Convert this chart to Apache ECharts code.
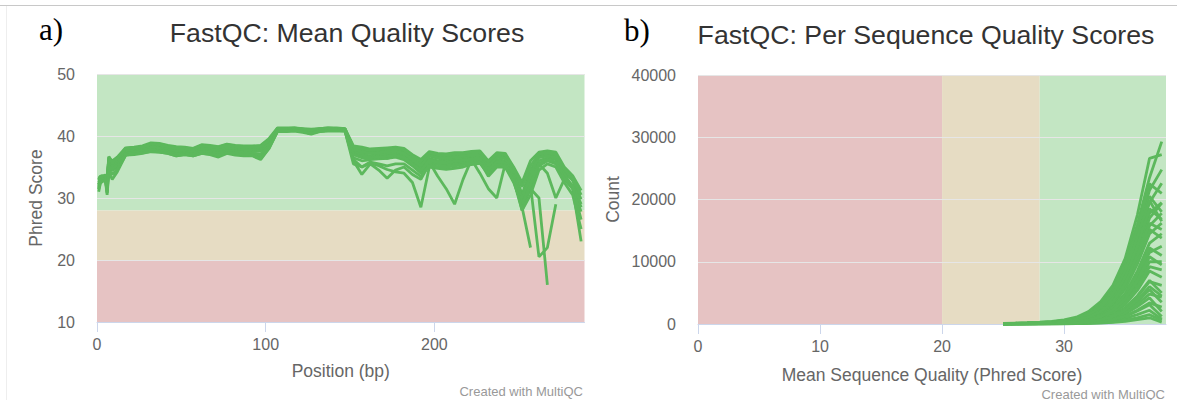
<!DOCTYPE html>
<html>
<head>
<meta charset="utf-8">
<script src="https://cdn.jsdelivr.net/npm/echarts@6/dist/echarts.min.js"></script>
<style>
html,body{margin:0;padding:0;background:#fff;}
#chart{width:1177px;height:400px;}
</style>
</head>
<body>
<div id="chart"></div>
<script>
// ---------------- DATA ----------------
// a) Mean quality scores: position (bp) of each bin
const positions = [1,2,3,4,5,6,7,8,9,12,17,22,27,32,37,42,47,52,57,62,67,72,77,82,87,92,97,102,107,112,117,122,127,132,137,142,147,152,157,162,167,172,177,182,187,192,197,202,207,212,217,222,227,232,237,242,247,252,257,262,267,272,277,282,287];
const meanQ1 = [33.2,33.5,33.6,33.6,33.7,33.4,36.6,36.2,36.0, 36.6,38.1,38.2,38.4,38.9,38.8,38.5,38.3,38.2,38.0,38.6,38.5,38.3,38.7,38.5,38.4,38.4,38.5, 39.6,41.3,41.3,41.3,41.2,41.1,41.2,41.3,41.3,41.2, 38.4,38.2,37.9,38.0,38.1,38.2,38.0,37.0,36.2,37.5,37.2,37.1,37.3,37.3,37.5,37.6,36.0,37.3,37.2,35.0,32.5,36.0,37.4,37.6,37.4,35.0,33.6,31.2];
const meanQ2 = [32.8,33.2,33.3,33.4,33.5,32.8,36.0,35.8,35.6, 36.1,37.8,38.0,38.1,38.5,38.4,38.2,37.9,37.9,37.7,38.3,38.1,38.0,38.4,38.2,38.1,38.0,38.2, 39.0,41.1,41.1,41.2,41.0,40.9,41.1,41.2,41.2,41.1, 38.0,37.8,37.5,37.6,37.8,37.9,37.5,36.5,35.6,37.1,36.8,36.7,36.9,37.0,37.2,37.2,35.5,36.9,36.7,34.4,30.6,34.5,36.8,37.1,36.8,34.2,32.8,29.8];
const meanQ3 = [32.5,33.0,33.1,33.2,33.2,32.0,35.5,35.2,35.0, 35.5,37.3,37.6,37.8,38.0,37.8,37.7,37.2,37.4,37.2,37.8,37.6,37.5,37.8,37.7,37.6,37.5,37.6, 38.5,40.9,40.9,41.0,40.8,40.6,40.9,41.0,41.0,41.0, 37.4,37.0,36.8,36.9,37.0,37.2,36.8,35.8,34.8,36.4,36.0,36.0,36.2,36.4,36.6,36.6,34.8,36.2,36.0,33.6,29.5,33.0,36.0,36.5,36.2,33.5,32.0,28.5];
const meanQ4 = [31.8,32.6,32.8,32.9,33.0,31.2,34.8,34.6,34.4, 35.0,37.0,37.2,37.4,37.6,37.5,37.3,36.9,37.1,36.9,37.3,37.2,37.0,37.4,37.3,37.0,36.9,36.6, 38.2,40.8,40.8,40.9,40.7,40.4,40.8,40.9,40.9,40.9, 36.5,36.0,36.2,36.3,36.4,36.6,36.2,35.2,34.0,35.8,35.4,35.5,35.7,35.8,36.0,36.1,34.2,35.6,35.4,33.0,28.5,31.5,35.2,36.0,35.5,33.0,31.5,27.8];
const meanQ5 = [31.0,32.4,32.6,32.8,32.8,30.5,34.2,33.6,33.0, 34.2,36.9,37.0,37.2,37.5,37.4,37.2,36.8,37.0,36.8,37.2,37.0,36.6,37.2,36.9,36.8,36.8,36.2, 38.0,40.7,40.7,40.8,40.6,40.3,40.7,40.8,40.8,40.8, 36.2,35.0,35.6,35.2,34.6,34.2,34.0,32.5,28.5,35.0,34.8,34.6,34.8,35.0,35.4,35.6,33.8,35.2,35.0,32.5,29.0,31.5,30.0,16.0,null,null,null,null];
const meanQ6 = [32.0,32.9,33.0,33.1,33.2,31.6,35.2,34.9,34.6, 35.3,37.2,37.4,37.6,37.8,37.6,37.5,37.1,37.2,37.1,37.6,37.4,37.2,37.6,37.5,37.3,37.2,36.9, 38.3,40.9,40.9,41.0,40.8,40.6,40.9,41.0,41.0,41.0, 36.0,33.8,35.5,34.5,33.2,34.5,35.0,33.8,33.0,35.5,35.0,35.2,35.5,35.6,35.8,35.9,33.5,35.0,35.0,33.0,28.5,22.0,null,null,null,null,null,null];
const meanQ7 = [32.2,33.0,33.2,33.3,33.4,32.4,35.8,35.5,35.3, 35.8,37.5,37.8,38.0,38.3,38.1,37.9,37.5,37.7,37.4,38.0,37.8,37.7,38.0,37.9,37.8,37.8,37.8, 38.8,41.0,41.0,41.1,40.9,40.8,41.0,41.1,41.1,41.0, 37.2,36.8,36.6,36.5,36.4,36.8,36.4,35.5,34.5,35.8,33.5,31.5,29.0,33.0,36.2,34.0,31.5,30.0,35.5,33.5,28.0,32.0,20.5,22.0,29.0,null,null,null];
const meanQ8 = [31.5,33.0,33.2,33.3,33.3,30.8,36.7,36.3,35.5, 36.0,37.6,37.9,38.1,38.7,38.6,38.0,37.6,37.8,37.5,38.2,38.0,37.9,38.2,38.0,37.9,37.9,38.0, 39.4,41.2,41.2,41.2,41.1,40.8,41.1,41.2,41.2,41.1, 37.6,37.2,37.2,37.0,37.2,37.4,37.0,36.0,35.2,36.8,36.4,36.2,36.4,36.6,36.8,36.9,35.0,36.6,36.4,34.0,30.0,34.0,36.5,36.8,36.5,34.0,31.5,23.0];
const meanQ9 = [33.0,33.4,33.5,33.5,33.5,33.2,36.4,36.1,35.9, 36.4,38.0,38.1,38.3,38.7,38.7,38.4,38.1,38.1,37.9,38.5,38.3,38.2,38.6,38.4,38.3,38.2,38.4, 39.4,41.2,41.2,41.3,41.1,41.0,41.2,41.3,41.2,41.2, 37.8,37.5,37.2,37.3,37.5,37.6,37.2,36.2,35.2,36.9,36.5,36.4,36.6,36.8,37.0,37.0,35.2,36.6,36.4,34.0,29.8,33.5,35.5,34.0,30.0,33.0,32.0,29.0];
const meanQ10 = [33.0,33.4,33.5,33.5,33.6,33.1,36.3,36.0,35.8, 36.3,38.0,38.1,38.2,38.7,38.6,38.3,38.0,38.0,37.8,38.4,38.3,38.1,38.5,38.3,38.2,38.2,38.3, 39.3,41.2,41.2,41.2,41.1,41.0,41.1,41.2,41.2,41.1, 38.2,38.0,37.7,37.8,37.9,38.0,37.8,36.8,36.0,37.3,37.0,36.9,37.1,37.2,37.4,37.4,35.8,37.1,37.0,34.8,31.8,35.2,37.1,37.3,37.1,34.6,33.2,30.5];
const meanQ11 = [32.2,32.8,33.0,33.0,33.1,31.6,35.1,34.9,34.7, 35.2,37.1,37.4,37.6,37.8,37.6,37.5,37.0,37.2,37.0,37.5,37.4,37.2,37.6,37.5,37.3,37.2,37.1, 38.4,40.8,40.8,41.0,40.8,40.5,40.8,40.9,40.9,41.0, 37.0,36.5,36.5,36.6,36.7,36.9,36.5,35.5,34.4,36.1,35.7,35.7,35.9,36.1,36.3,36.3,34.5,35.9,35.7,33.3,29.0,32.2,35.6,36.2,35.8,33.2,31.8,26.5];
const meanQ12 = [31.4,32.5,32.7,32.8,32.9,30.9,34.5,34.2,33.8, 34.6,36.9,37.1,37.3,37.5,37.4,37.2,36.8,37.0,36.8,37.2,37.1,36.9,37.3,37.2,37.0,36.9,36.4, 38.0,40.8,40.8,40.9,40.7,40.4,40.8,40.9,40.9,40.8, 35.5,35.0,35.8,35.5,35.2,35.5,35.5,34.5,33.5,35.2,35.0,35.0,35.2,35.4,35.6,35.8,34.0,35.3,35.2,32.8,28.0,30.5,34.5,35.5,35.0,32.5,30.5,25.0];
const meanQSeries = [meanQ1, meanQ2, meanQ3, meanQ4, meanQ5, meanQ6, meanQ7, meanQ8, meanQ9, meanQ10, meanQ11, meanQ12];

// b) Per sequence quality scores: mean quality (Phred) and read counts
const phred = [25,26,27,28,29,30,31,32,33,34,35,36,37,38];
const countA = [100,150,200,280,400,650,1100,2000,3600,6200,10500,17500,26600,27200];
const countB = [80,120,170,240,350,560,950,1800,3200,5600,9800,16000,23500,29300];
const countC = [60,100,140,200,300,480,820,1550,2800,5000,8800,14500,21500,24800];
const countD = [50,90,130,180,270,430,740,1400,2500,4500,8000,13200,19500,22600];
const countE = [40,80,110,160,240,380,660,1250,2250,4000,7200,12000,17800,19500];
const countF = [60,100,140,210,310,500,850,1600,2900,5100,9000,14800,20500,18000];
const countG = [40,70,100,150,230,360,620,1150,2100,3800,6800,11500,17000,19400];
const countH = [30,60,90,140,210,330,570,1050,1900,3500,6300,10600,15800,17800];
const countI = [30,50,80,120,180,290,500,950,1700,3100,5600,9600,14500,16200];
const countJ = [20,40,70,110,160,250,440,830,1500,2700,4900,8500,13000,14500];
const countK = [20,40,60,90,140,220,390,720,1300,2400,4300,7500,11500,12500];
const countL = [10,30,50,80,120,190,330,620,1100,2000,3700,6400,10000,10000];
const countM = [10,30,40,70,100,160,280,520,940,1700,3100,5400,8500,7500];
const countN = [10,20,40,60,90,140,240,440,790,1400,2600,4500,7000,5000];
const countO = [10,20,30,50,70,110,190,350,630,1100,2000,3600,5500,3500];
const countP = [10,20,30,40,60,90,150,280,500,880,1600,2800,4200,2000];
const countQ = [10,10,20,30,50,70,120,220,390,680,1200,2100,3100,1200];
const countR = [0,10,20,30,40,60,100,170,300,520,900,1500,2200,800];
const countS = [0,10,10,20,30,40,70,120,210,360,620,1000,1500,600];
const countT = [0,10,10,20,20,30,50,90,150,250,420,700,1000,300];
const countU = [70,110,160,230,330,530,900,1700,3000,5300,9300,15200,22500,21000];
const countV = [50,80,120,170,260,410,700,1300,2350,4200,7500,12500,18500,16800];
const countW = [30,60,90,130,200,310,540,1000,1800,3300,5900,10100,15200,13800];
const countX = [20,50,70,100,150,240,410,780,1400,2550,4600,8000,12200,11000];
const countY = [20,30,50,80,110,180,310,580,1050,1900,3400,6000,9200,8700];
const countZ = [10,20,40,60,80,130,230,430,770,1400,2500,4400,6800,6200];
const countAA = [10,20,30,40,60,100,170,320,570,1000,1800,3200,4800,4300];
const countAB = [10,10,20,30,40,70,120,230,400,700,1250,2200,3400,2700];
const countAC = [50,90,130,190,280,450,780,1500,2700,4800,8500,14000,19800,16500];
const countAD = [40,70,100,150,220,350,600,1100,2000,3600,6500,11000,16200,15200];
const countAE = [20,40,60,90,130,210,360,680,1200,2200,4000,7000,10800,9500];
const countAF = [10,20,30,50,70,120,200,380,680,1200,2200,3900,6000,4500];
const countSeries = [countA,countB,countC,countD,countE,countF,countG,countH,countI,countJ,countK,countL,countM,countN,countO,countP,countQ,countR,countS,countT,countU,countV,countW,countX,countY,countZ,countAA,countAB,countAC,countAD,countAE,countAF];

// axis ranges / tick labels
const meanQTicksY = [10, 50, 10];      // min, max, interval
const meanQTicksX = [0, 289, 100];
const countTicksY = [0, 40000, 10000];
const countTicksX = [0, 38.35, 10];

// status bands
const meanQBands = [[28, 50, '#c3e6c3'], [20, 28, '#e6dcc3'], [10, 20, '#e6c3c3']];
const countBands = [[0, 20, '#e6c3c3'], [20, 28, '#e6dcc3'], [28, 38.35, '#c3e6c3']];

// ---------------- CHART ----------------
const SANS = '"Liberation Sans", Arial, Helvetica, sans-serif';
const SERIF = '"Liberation Serif", "Times New Roman", serif';
const LINE = '#5cb85c';
const AXIS = '#ccd6eb';
const LABEL = '#666666';
const LW = 2.8;

function xAxisCfg(grid, ticks, name, gap) {
  return {
    gridIndex: grid, type: 'value', min: ticks[0], max: ticks[1], interval: ticks[2], z: 2,
    axisLine: { show: true, onZero: false, lineStyle: { color: AXIS, width: 1 } },
    axisTick: { show: true, length: 10, lineStyle: { color: AXIS } },
    axisLabel: { showMaxLabel: false, color: LABEL, fontSize: 16, fontFamily: SANS, margin: 14,
                 formatter: v => String(v) },
    splitLine: { show: false },
    name: name, nameLocation: 'middle', nameGap: gap,
    nameTextStyle: { color: LABEL, fontSize: 17.5, fontFamily: SANS }
  };
}
function yAxisCfg(grid, ticks, name, gap) {
  return {
    gridIndex: grid, type: 'value', min: ticks[0], max: ticks[1], interval: ticks[2], z: 1.5,
    axisLine: { show: false }, axisTick: { show: false },
    splitLine: { show: true, lineStyle: { color: '#e6e6e6', width: 1 } },
    axisLabel: { color: LABEL, fontSize: 16, fontFamily: SANS, margin: 22, formatter: v => String(v) },
    name: name, nameLocation: 'middle', nameGap: gap,
    nameTextStyle: { color: LABEL, fontSize: 17.5, fontFamily: SANS }
  };
}

const series = [];
meanQSeries.forEach((arr, k) => {
  const s = {
    type: 'line', xAxisIndex: 0, yAxisIndex: 0, z: 3,
    data: positions.map((p, i) => [p, arr[i]]),
    showSymbol: false, symbol: 'none', connectNulls: false, silent: true,
    lineStyle: { color: LINE, width: LW }, itemStyle: { color: LINE }
  };
  if (k === 0) {
    s.markArea = {
      silent: true, z: 1,
      data: meanQBands.map(b => [
        { xAxis: meanQTicksX[0], yAxis: b[0], itemStyle: { color: b[2], opacity: 1 } },
        { xAxis: meanQTicksX[1], yAxis: b[1] }
      ])
    };
  }
  series.push(s);
});
countSeries.forEach((arr, k) => {
  const s = {
    type: 'line', xAxisIndex: 1, yAxisIndex: 1, z: 3,
    data: phred.map((p, i) => [p, arr[i]]),
    showSymbol: false, symbol: 'none', silent: true,
    lineStyle: { color: LINE, width: LW }, itemStyle: { color: LINE }
  };
  if (k === 0) {
    s.markArea = {
      silent: true, z: 1,
      data: countBands.map(b => [
        { xAxis: b[0], yAxis: countTicksY[0], itemStyle: { color: b[2], opacity: 1 } },
        { xAxis: b[1], yAxis: countTicksY[1] }
      ])
    };
  }
  series.push(s);
});

const chart = echarts.init(document.getElementById('chart'), null, { renderer: 'svg', width: 1177, height: 400 });
chart.setOption({
  animation: false,
  backgroundColor: '#ffffff',
  textStyle: { fontFamily: SANS },
  grid: [
    { left: 97, top: 74, width: 487.5, height: 248 },
    { left: 698, top: 75, width: 468, height: 249 }
  ],
  xAxis: [
    xAxisCfg(0, meanQTicksX, 'Position (bp)', 40),
    xAxisCfg(1, countTicksX, 'Mean Sequence Quality (Phred Score)', 42)
  ],
  yAxis: [
    yAxisCfg(0, meanQTicksY, 'Phred Score', 52),
    yAxisCfg(1, countTicksY, 'Count', 76)
  ],
  series: series,
  graphic: [
    { type: 'line', silent: true, shape: { x1: 0, y1: 5.5, x2: 1177, y2: 5.5 }, style: { stroke: '#c8c8c8', lineWidth: 1 } },
    { type: 'line', silent: true, shape: { x1: 6.5, y1: 6, x2: 6.5, y2: 400 }, style: { stroke: '#eeeeee', lineWidth: 1 } },
    { type: 'text', silent: true, x: 39, y: 29, style: { text: 'a)', font: '31px ' + SERIF, fill: '#000', textAlign: 'left', textVerticalAlign: 'middle' } },
    { type: 'text', silent: true, x: 624, y: 30, style: { text: 'b)', font: '31px ' + SERIF, fill: '#000', textAlign: 'left', textVerticalAlign: 'middle' } },
    { type: 'text', silent: true, x: 347, y: 33, style: { text: 'FastQC: Mean Quality Scores', font: '26.7px ' + SANS, fill: '#333333', textAlign: 'center', textVerticalAlign: 'middle' } },
    { type: 'text', silent: true, x: 926, y: 35, style: { text: 'FastQC: Per Sequence Quality Scores', font: '26.7px ' + SANS, fill: '#333333', textAlign: 'center', textVerticalAlign: 'middle' } },
    { type: 'text', silent: true, x: 583, y: 391, style: { text: 'Created with MultiQC', font: '13px ' + SANS, fill: '#999999', textAlign: 'right', textVerticalAlign: 'middle' } },
    { type: 'text', silent: true, x: 1165, y: 394, style: { text: 'Created with MultiQC', font: '13px ' + SANS, fill: '#999999', textAlign: 'right', textVerticalAlign: 'middle' } }
  ]
});
</script>
</body>
</html>
